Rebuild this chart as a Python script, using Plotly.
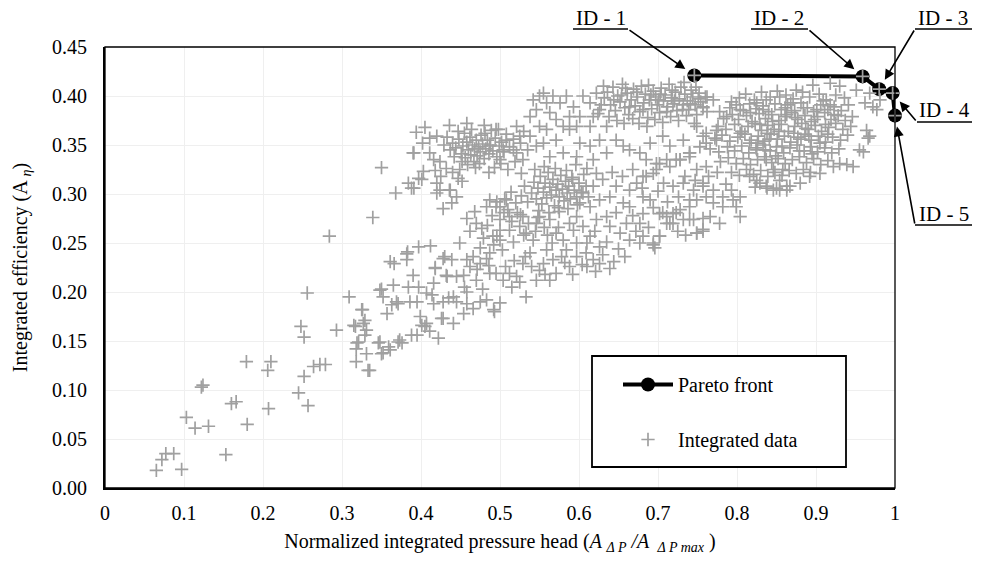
import plotly.graph_objects as go

# ---------------- data ----------------
pareto_x = [0.746, 0.959, 0.980, 0.997, 1.000]
pareto_y = [0.421, 0.420, 0.407, 0.403, 0.380]
pareto_ids = ["ID - 1", "ID - 2", "ID - 3", "ID - 4", "ID - 5"]

x_ticks = [0, 0.1, 0.2, 0.3, 0.4, 0.5, 0.6, 0.7, 0.8, 0.9, 1]
y_ticks = [0.00, 0.05, 0.10, 0.15, 0.20, 0.25, 0.30, 0.35, 0.40, 0.45]

tail = [
    (0.065, 0.018), (0.072, 0.029), (0.077, 0.035), (0.087, 0.035), (0.097, 0.019), (0.103, 0.072),
    (0.114, 0.061), (0.131, 0.063), (0.122, 0.103), (0.124, 0.105), (0.153, 0.034), (0.160, 0.086),
    (0.166, 0.088), (0.179, 0.129), (0.180, 0.065), (0.206, 0.120), (0.210, 0.129), (0.207, 0.081),
    (0.245, 0.097), (0.248, 0.165), (0.252, 0.154), (0.252, 0.114), (0.257, 0.084), (0.256, 0.199),
    (0.264, 0.124), (0.272, 0.126), (0.279, 0.126), (0.284, 0.257), (0.293, 0.161), (0.309, 0.195),
    (0.315, 0.166), (0.326, 0.182), (0.329, 0.171), (0.331, 0.161), (0.319, 0.148), (0.318, 0.142),
    (0.318, 0.129), (0.331, 0.137), (0.335, 0.120), (0.339, 0.276), (0.350, 0.327), (0.350, 0.203),
    (0.352, 0.195), (0.365, 0.207), (0.357, 0.178), (0.363, 0.187), (0.371, 0.188), (0.346, 0.148),
    (0.352, 0.138), (0.361, 0.141), (0.371, 0.149), (0.376, 0.148), (0.388, 0.156), (0.361, 0.231),
    (0.366, 0.229), (0.382, 0.233), (0.383, 0.241), (0.397, 0.246), (0.412, 0.247), (0.368, 0.301),
    (0.384, 0.311), (0.388, 0.306), (0.401, 0.315), (0.390, 0.342), (0.325, 0.182), (0.327, 0.168),
    (0.317, 0.165), (0.329, 0.156), (0.321, 0.149), (0.333, 0.120), (0.348, 0.149), (0.359, 0.144),
    (0.350, 0.137), (0.373, 0.151), (0.348, 0.202), (0.382, 0.239), (0.369, 0.190), (0.386, 0.190),
]

mid_left = [
    (0.390, 0.217), (0.384, 0.205), (0.397, 0.205), (0.407, 0.199), (0.416, 0.209), (0.418, 0.225),
    (0.428, 0.234), (0.433, 0.216), (0.416, 0.188), (0.428, 0.190), (0.399, 0.175), (0.401, 0.166),
    (0.407, 0.168), (0.411, 0.160), (0.422, 0.153), (0.426, 0.173), (0.395, 0.156), (0.424, 0.304),
    (0.428, 0.285), (0.420, 0.301), (0.414, 0.197), (0.395, 0.190), (0.430, 0.236), (0.439, 0.233),
    (0.458, 0.233), (0.466, 0.236), (0.475, 0.229), (0.483, 0.234), (0.487, 0.219), (0.471, 0.223),
    (0.454, 0.217), (0.445, 0.216), (0.418, 0.224), (0.432, 0.217), (0.449, 0.250), (0.435, 0.194),
    (0.441, 0.195), (0.458, 0.200), (0.475, 0.190), (0.483, 0.192), (0.492, 0.182), (0.466, 0.183),
    (0.458, 0.188), (0.454, 0.178), (0.445, 0.190), (0.428, 0.173), (0.405, 0.165), (0.441, 0.168),
    (0.458, 0.275), (0.468, 0.282), (0.483, 0.287), (0.496, 0.292), (0.477, 0.265), (0.479, 0.255),
    (0.475, 0.245), (0.496, 0.257), (0.500, 0.263), (0.436, 0.304), (0.445, 0.297), (0.439, 0.291),
    (0.449, 0.325), (0.452, 0.313), (0.420, 0.311), (0.437, 0.304), (0.403, 0.323), (0.397, 0.316),
    (0.391, 0.306), (0.462, 0.262), (0.470, 0.270), (0.484, 0.268), (0.490, 0.278), (0.505, 0.281),
    (0.515, 0.272), (0.526, 0.279), (0.536, 0.270), (0.548, 0.276), (0.492, 0.248), (0.503, 0.243),
    (0.517, 0.251), (0.530, 0.258), (0.545, 0.262), (0.556, 0.266), (0.487, 0.240),
]

band_d = [
    (0.491, 0.257), (0.500, 0.253), (0.512, 0.263), (0.525, 0.267), (0.533, 0.260), (0.546, 0.270),
    (0.542, 0.253), (0.550, 0.277), (0.563, 0.274), (0.571, 0.260), (0.580, 0.253), (0.593, 0.263),
    (0.597, 0.277), (0.605, 0.267), (0.614, 0.257), (0.626, 0.246), (0.635, 0.251), (0.559, 0.243),
    (0.538, 0.240), (0.529, 0.229), (0.512, 0.219), (0.495, 0.219), (0.521, 0.216), (0.546, 0.212),
    (0.563, 0.212), (0.571, 0.219), (0.588, 0.226), (0.597, 0.236), (0.609, 0.240), (0.618, 0.233),
    (0.626, 0.229), (0.639, 0.224), (0.584, 0.243), (0.567, 0.233), (0.550, 0.222), (0.533, 0.195),
    (0.500, 0.189), (0.493, 0.180), (0.487, 0.294), (0.495, 0.287), (0.508, 0.294), (0.529, 0.277),
    (0.512, 0.277), (0.500, 0.274), (0.555, 0.229), (0.578, 0.236), (0.604, 0.228), (0.621, 0.221),
    (0.532, 0.236), (0.507, 0.226), (0.515, 0.205), (0.525, 0.210), (0.597, 0.250), (0.620, 0.262),
    (0.588, 0.270), (0.575, 0.282), (0.455, 0.205), (0.462, 0.226), (0.470, 0.212), (0.478, 0.203),
    (0.486, 0.227), (0.504, 0.212), (0.518, 0.232), (0.540, 0.226), (0.557, 0.218), (0.566, 0.250),
    (0.582, 0.230), (0.592, 0.218), (0.610, 0.226), (0.630, 0.238), (0.644, 0.231), (0.650, 0.244),
    (0.658, 0.236), (0.610, 0.250), (0.560, 0.258), (0.574, 0.266),
]

band_a = [
    (0.440, 0.352), (0.444, 0.347), (0.448, 0.356), (0.451, 0.341), (0.453, 0.349), (0.456, 0.337),
    (0.458, 0.353), (0.460, 0.345), (0.462, 0.358), (0.463, 0.340), (0.465, 0.350), (0.467, 0.333),
    (0.468, 0.346), (0.470, 0.355), (0.471, 0.339), (0.473, 0.348), (0.475, 0.343), (0.476, 0.360),
    (0.478, 0.351), (0.480, 0.336), (0.482, 0.346), (0.484, 0.355), (0.486, 0.341), (0.488, 0.350),
    (0.491, 0.344), (0.494, 0.357), (0.496, 0.338), (0.499, 0.349), (0.455, 0.362), (0.447, 0.364),
    (0.459, 0.330), (0.469, 0.327), (0.442, 0.338), (0.437, 0.345), (0.433, 0.358), (0.429, 0.350),
    (0.452, 0.333), (0.474, 0.331), (0.481, 0.362), (0.489, 0.365), (0.502, 0.353), (0.505, 0.343),
    (0.508, 0.361), (0.512, 0.348), (0.517, 0.356), (0.521, 0.342), (0.526, 0.352), (0.530, 0.364),
    (0.535, 0.345), (0.464, 0.366), (0.394, 0.363), (0.402, 0.352), (0.411, 0.357), (0.420, 0.359),
    (0.391, 0.342), (0.411, 0.342), (0.416, 0.335), (0.424, 0.333), (0.418, 0.324), (0.425, 0.318),
    (0.432, 0.326), (0.440, 0.322), (0.447, 0.316), (0.486, 0.322), (0.493, 0.327), (0.501, 0.331),
    (0.510, 0.325), (0.519, 0.333), (0.527, 0.321), (0.405, 0.368), (0.436, 0.370), (0.458, 0.372),
    (0.480, 0.370), (0.498, 0.366), (0.521, 0.369),
]

below_b = [
    (0.495, 0.366), (0.508, 0.355), (0.525, 0.359), (0.538, 0.359), (0.546, 0.349), (0.555, 0.352),
    (0.571, 0.355), (0.588, 0.366), (0.601, 0.352), (0.614, 0.349), (0.626, 0.355), (0.647, 0.355),
    (0.656, 0.349), (0.664, 0.345), (0.487, 0.349), (0.504, 0.345), (0.517, 0.345), (0.529, 0.335),
    (0.500, 0.335), (0.563, 0.338), (0.580, 0.342), (0.597, 0.338), (0.618, 0.335), (0.635, 0.342),
    (0.677, 0.342), (0.690, 0.352), (0.706, 0.359), (0.715, 0.349), (0.732, 0.355), (0.740, 0.342),
    (0.749, 0.369), (0.757, 0.359), (0.723, 0.335), (0.698, 0.331),
]

band_b_left = [
    (0.542, 0.396), (0.550, 0.400), (0.555, 0.403), (0.559, 0.393), (0.546, 0.386), (0.563, 0.383),
    (0.571, 0.376), (0.576, 0.393), (0.584, 0.400), (0.593, 0.389), (0.588, 0.379), (0.601, 0.379),
    (0.605, 0.400), (0.614, 0.393), (0.618, 0.379), (0.622, 0.403), (0.631, 0.410), (0.626, 0.386),
    (0.550, 0.369), (0.559, 0.366), (0.597, 0.369), (0.614, 0.369), (0.567, 0.400), (0.538, 0.379),
    (0.580, 0.369), (0.635, 0.369),
]

band_b = [
    (0.632, 0.398), (0.636, 0.404), (0.640, 0.391), (0.643, 0.409), (0.646, 0.385), (0.649, 0.400),
    (0.652, 0.394), (0.655, 0.412), (0.658, 0.388), (0.661, 0.403), (0.663, 0.381), (0.666, 0.396),
    (0.669, 0.407), (0.671, 0.390), (0.674, 0.399), (0.677, 0.384), (0.679, 0.410), (0.682, 0.393),
    (0.684, 0.402), (0.687, 0.378), (0.689, 0.396), (0.692, 0.387), (0.694, 0.405), (0.697, 0.399),
    (0.699, 0.391), (0.702, 0.383), (0.704, 0.408), (0.707, 0.395), (0.709, 0.401), (0.712, 0.389),
    (0.714, 0.412), (0.717, 0.398), (0.719, 0.392), (0.722, 0.404), (0.724, 0.385), (0.727, 0.397),
    (0.729, 0.409), (0.732, 0.391), (0.734, 0.402), (0.737, 0.395), (0.739, 0.386), (0.742, 0.406),
    (0.744, 0.399), (0.747, 0.391), (0.749, 0.381), (0.752, 0.403), (0.754, 0.394), (0.757, 0.388),
    (0.760, 0.399), (0.762, 0.384), (0.638, 0.379), (0.648, 0.375), (0.657, 0.372), (0.668, 0.377),
    (0.676, 0.372), (0.686, 0.369), (0.696, 0.376), (0.706, 0.373), (0.716, 0.379), (0.726, 0.375),
    (0.736, 0.380), (0.746, 0.372), (0.644, 0.396), (0.654, 0.401), (0.664, 0.389), (0.673, 0.404),
    (0.681, 0.386), (0.691, 0.401), (0.701, 0.396), (0.711, 0.384), (0.721, 0.395), (0.731, 0.386),
    (0.741, 0.392), (0.751, 0.397), (0.659, 0.408), (0.688, 0.411), (0.703, 0.402), (0.718, 0.406),
    (0.733, 0.414), (0.748, 0.409), (0.628, 0.391), (0.624, 0.382),
]

middle = [
    (0.540, 0.301), (0.543, 0.312), (0.546, 0.295), (0.548, 0.306), (0.551, 0.318), (0.553, 0.290),
    (0.555, 0.302), (0.557, 0.311), (0.559, 0.296), (0.561, 0.322), (0.563, 0.307), (0.565, 0.299),
    (0.567, 0.315), (0.569, 0.288), (0.571, 0.304), (0.573, 0.310), (0.575, 0.297), (0.577, 0.319),
    (0.579, 0.305), (0.581, 0.293), (0.583, 0.313), (0.585, 0.301), (0.587, 0.308), (0.589, 0.295),
    (0.591, 0.317), (0.594, 0.304), (0.597, 0.297), (0.600, 0.311), (0.603, 0.302), (0.606, 0.320),
    (0.609, 0.308), (0.612, 0.297), (0.549, 0.283), (0.562, 0.281), (0.574, 0.286), (0.586, 0.285),
    (0.598, 0.289), (0.544, 0.325), (0.556, 0.328), (0.570, 0.326), (0.584, 0.324), (0.596, 0.330),
    (0.610, 0.326), (0.535, 0.292), (0.531, 0.308), (0.527, 0.298), (0.520, 0.291), (0.514, 0.302),
    (0.506, 0.295), (0.500, 0.287), (0.510, 0.284), (0.522, 0.281), (0.592, 0.315), (0.605, 0.301),
    (0.618, 0.308), (0.630, 0.315), (0.614, 0.287), (0.601, 0.291), (0.622, 0.321),
]

band_c = [
    (0.626, 0.294), (0.639, 0.297), (0.647, 0.308), (0.664, 0.304), (0.673, 0.311), (0.685, 0.318),
    (0.698, 0.325), (0.711, 0.335), (0.728, 0.335), (0.740, 0.338), (0.749, 0.325), (0.761, 0.328),
    (0.757, 0.308), (0.740, 0.294), (0.723, 0.281), (0.711, 0.270), (0.706, 0.281), (0.690, 0.294),
    (0.681, 0.297), (0.656, 0.291), (0.664, 0.287), (0.647, 0.281), (0.635, 0.277), (0.622, 0.274),
    (0.639, 0.267), (0.652, 0.260), (0.664, 0.253), (0.677, 0.250), (0.694, 0.248), (0.702, 0.257),
    (0.719, 0.270), (0.740, 0.274), (0.749, 0.260), (0.757, 0.264), (0.685, 0.335), (0.702, 0.331),
    (0.715, 0.328), (0.728, 0.335), (0.740, 0.342), (0.753, 0.348), (0.761, 0.352), (0.774, 0.355),
    (0.681, 0.318), (0.694, 0.321), (0.707, 0.311), (0.719, 0.308), (0.732, 0.311), (0.745, 0.304),
    (0.757, 0.311), (0.770, 0.304), (0.782, 0.297), (0.795, 0.294), (0.804, 0.297), (0.799, 0.287),
    (0.804, 0.277), (0.782, 0.287), (0.770, 0.291), (0.761, 0.297), (0.749, 0.294), (0.740, 0.287),
    (0.728, 0.284), (0.719, 0.280), (0.711, 0.277), (0.702, 0.280), (0.715, 0.270), (0.732, 0.274),
    (0.745, 0.274), (0.757, 0.275), (0.766, 0.277), (0.778, 0.270), (0.749, 0.260), (0.757, 0.262),
    (0.681, 0.280), (0.677, 0.270), (0.681, 0.257), (0.694, 0.250), (0.696, 0.245), (0.702, 0.257),
    (0.660, 0.270), (0.668, 0.278), (0.672, 0.262), (0.688, 0.266), (0.694, 0.286), (0.700, 0.303),
    (0.712, 0.292), (0.726, 0.297), (0.734, 0.318), (0.747, 0.314), (0.764, 0.318), (0.775, 0.322),
    (0.786, 0.310), (0.793, 0.304), (0.655, 0.318), (0.668, 0.325), (0.642, 0.322), (0.680, 0.306),
    (0.725, 0.262), (0.735, 0.258),
]

right_edge = [
    (0.964, 0.365), (0.968, 0.359), (0.955, 0.345), (0.947, 0.328), (0.939, 0.330), (0.972, 0.389),
    (0.977, 0.386), (0.981, 0.396), (0.968, 0.403), (0.951, 0.406), (0.930, 0.410), (0.918, 0.413),
    (0.896, 0.411), (0.875, 0.406), (0.854, 0.399), (0.837, 0.396), (0.825, 0.393), (0.804, 0.386),
    (0.787, 0.379), (0.774, 0.365), (0.761, 0.362), (0.804, 0.362), (0.816, 0.352), (0.825, 0.345),
    (0.837, 0.335), (0.846, 0.325), (0.854, 0.314), (0.867, 0.308), (0.880, 0.311), (0.892, 0.318),
    (0.905, 0.321), (0.922, 0.328), (0.930, 0.331), (0.858, 0.325), (0.829, 0.311), (0.837, 0.308),
    (0.846, 0.304), (0.854, 0.304), (0.863, 0.304), (0.825, 0.314), (0.816, 0.318), (0.962, 0.393),
    (0.966, 0.357), (0.960, 0.343), (0.823, 0.307), (0.838, 0.306), (0.850, 0.306), (0.863, 0.308),
    (0.762, 0.399), (0.770, 0.396), (0.793, 0.394), (0.778, 0.384), (0.757, 0.389),
]

right_core = [
    (0.803, 0.398), (0.811, 0.402), (0.822, 0.396), (0.831, 0.404), (0.842, 0.399), (0.851, 0.405),
    (0.862, 0.401), (0.871, 0.397), (0.883, 0.404), (0.892, 0.399), (0.904, 0.402), (0.913, 0.396),
    (0.925, 0.401), (0.936, 0.398), (0.791, 0.388), (0.799, 0.391), (0.808, 0.385), (0.816, 0.392),
    (0.824, 0.387), (0.833, 0.390), (0.840, 0.384), (0.848, 0.392), (0.856, 0.386), (0.864, 0.391),
    (0.873, 0.385), (0.881, 0.393), (0.889, 0.388), (0.897, 0.384), (0.906, 0.391), (0.915, 0.386),
    (0.923, 0.389), (0.932, 0.385), (0.941, 0.391), (0.783, 0.377), (0.794, 0.381), (0.802, 0.376),
    (0.812, 0.380), (0.819, 0.374), (0.828, 0.382), (0.836, 0.377), (0.844, 0.381), (0.853, 0.375),
    (0.861, 0.379), (0.869, 0.383), (0.877, 0.376), (0.886, 0.380), (0.894, 0.374), (0.902, 0.379),
    (0.911, 0.383), (0.919, 0.376), (0.928, 0.380), (0.937, 0.375), (0.946, 0.379), (0.776, 0.369),
    (0.786, 0.366), (0.797, 0.371), (0.806, 0.364), (0.814, 0.369), (0.823, 0.372), (0.831, 0.365),
    (0.839, 0.370), (0.847, 0.366), (0.856, 0.371), (0.865, 0.364), (0.873, 0.369), (0.882, 0.372),
    (0.890, 0.366), (0.899, 0.370), (0.907, 0.364), (0.916, 0.368), (0.925, 0.372), (0.934, 0.366),
    (0.944, 0.369), (0.772, 0.357), (0.781, 0.360), (0.791, 0.354), (0.801, 0.358), (0.810, 0.361),
    (0.818, 0.355), (0.827, 0.359), (0.835, 0.354), (0.843, 0.361), (0.851, 0.356), (0.860, 0.359),
    (0.868, 0.353), (0.877, 0.358), (0.886, 0.361), (0.894, 0.355), (0.903, 0.359), (0.912, 0.353),
    (0.921, 0.358), (0.931, 0.355), (0.940, 0.360), (0.766, 0.346), (0.777, 0.343), (0.788, 0.348),
    (0.797, 0.344), (0.806, 0.349), (0.815, 0.342), (0.824, 0.347), (0.833, 0.350), (0.842, 0.344),
    (0.850, 0.348), (0.859, 0.342), (0.867, 0.347), (0.876, 0.350), (0.885, 0.344), (0.893, 0.348),
    (0.902, 0.343), (0.911, 0.347), (0.920, 0.342), (0.929, 0.346), (0.779, 0.333), (0.789, 0.337),
    (0.799, 0.331), (0.808, 0.336), (0.817, 0.330), (0.826, 0.335), (0.835, 0.338), (0.844, 0.332),
    (0.852, 0.336), (0.861, 0.331), (0.870, 0.335), (0.879, 0.338), (0.888, 0.332), (0.897, 0.336),
    (0.906, 0.330), (0.915, 0.334), (0.793, 0.322), (0.803, 0.319), (0.812, 0.325), (0.821, 0.320),
    (0.830, 0.324), (0.839, 0.318), (0.848, 0.322), (0.857, 0.319), (0.866, 0.324), (0.875, 0.321),
    (0.884, 0.325), (0.893, 0.322), (0.826, 0.352), (0.838, 0.362), (0.845, 0.374), (0.857, 0.349),
    (0.863, 0.381), (0.872, 0.362), (0.879, 0.344), (0.884, 0.388), (0.891, 0.359), (0.898, 0.376),
    (0.905, 0.352), (0.912, 0.371), (0.918, 0.391), (0.833, 0.386), (0.849, 0.339), (0.868, 0.393),
    (0.887, 0.367), (0.901, 0.386), (0.853, 0.364), (0.874, 0.378), (0.895, 0.341), (0.915, 0.361),
    (0.829, 0.371), (0.841, 0.356), (0.861, 0.388), (0.881, 0.356), (0.909, 0.395), (0.923, 0.381),
    (0.817, 0.383), (0.836, 0.345),
]

clusters = [tail, mid_left, band_d, band_a, below_b, band_b_left, band_b, middle, band_c, right_edge, right_core]
data_x = [p[0] for c in clusters for p in c] + pareto_x
data_y = [p[1] for c in clusters for p in c] + pareto_y

# ---------------- layout helpers ----------------
# The page body has an 8 px margin, so the figure is drawn 8 px smaller and offset.
W, H = 973, 565
ML, MR, MT, MB = 97, 86, 39, 85
PW, PH = W - ML - MR, H - MT - MB
OFF = 8
FONT = "Liberation Serif, Times New Roman, serif"
X_RANGE = [0, 1]
Y_RANGE = [0, 0.45]


def paper(px, py):
    """screen pixel -> paper fraction of the plotting area"""
    return (px - OFF - ML) / PW, (OFF + H - MB - py) / PH


def data_from_px(px, py):
    xp, yp = paper(px, py)
    return (X_RANGE[0] + xp * (X_RANGE[1] - X_RANGE[0]),
            Y_RANGE[0] + yp * (Y_RANGE[1] - Y_RANGE[0]))


fig = go.Figure()

fig.add_trace(go.Scatter(
    x=pareto_x, y=pareto_y, mode="lines+markers", name="Pareto front",
    line=dict(color="black", width=4),
    marker=dict(color="black", size=14, symbol="circle"),
    cliponaxis=False, legendgroup="a",
))

fig.add_trace(go.Scatter(
    x=data_x, y=data_y, mode="markers", name="Integrated data",
    marker=dict(symbol="cross-thin", size=9.5, color="#a0a0a0",
                line=dict(color="#a0a0a0", width=1.7)),
    cliponaxis=False, legendgroup="b",
))

# label layout (screen px): text centre x, underline x0, x1, underline y, arrow tail x, y
label_layout = [
    (601, 573, 628, 29, 628, 29),
    (779, 751, 808, 29, 808, 29),
    (943, 915, 972, 29, 915, 29),
    (944, 917, 972, 122, 917, 122),
    (944, 915, 972, 225, 915, 225),
]

annotations = []
shapes = []
for (tid, px, py), lay in zip(zip(pareto_ids, pareto_x, pareto_y), label_layout):
    tcx, ux0, ux1, uy, tx, ty = lay
    xp, yp = paper(tcx, uy + 1.5)
    annotations.append(dict(
        x=xp, y=yp, xref="paper", yref="paper", text=tid, showarrow=False,
        xanchor="center", yanchor="bottom", borderpad=0,
        font=dict(family=FONT, size=21, color="black"),
    ))
    a0 = paper(ux0, uy)
    a1 = paper(ux1, uy)
    shapes.append(dict(type="line", xref="paper", yref="paper", x0=a0[0], y0=a0[1], x1=a1[0], y1=a1[1],
                       line=dict(color="black", width=1.5)))
    axd, ayd = data_from_px(tx, ty)
    annotations.append(dict(
        x=px, y=py, xref="x", yref="y", ax=axd, ay=ayd, axref="x", ayref="y",
        text="", showarrow=True, arrowhead=2, arrowsize=1.25, arrowwidth=1.6,
        arrowcolor="black", standoff=11,
    ))

# plot frame
shapes.append(dict(type="rect", xref="paper", yref="paper", x0=0, y0=0, x1=1, y1=1,
                   line=dict(color="black", width=1.3), layer="above"))

# legend box
b0 = paper(592, 356)
b1 = paper(846, 467)
shapes.append(dict(type="rect", xref="paper", yref="paper", x0=b0[0], y0=b1[1], x1=b1[0], y1=b0[1],
                   line=dict(color="black", width=1.8), fillcolor="white", layer="above"))

lx, ly = paper(618, 365)

fig.update_layout(
    width=W, height=H,
    margin=dict(l=ML, r=MR, t=MT, b=MB),
    paper_bgcolor="white", plot_bgcolor="white",
    font=dict(family=FONT, size=20, color="black"),
    showlegend=True,
    legend=dict(
        x=lx, y=ly, xanchor="left", yanchor="top",
        bgcolor="rgba(0,0,0,0)", borderwidth=0,
        font=dict(family=FONT, size=20, color="black"),
        tracegroupgap=26, itemwidth=50,
    ),
    annotations=annotations,
    shapes=shapes,
    xaxis=dict(
        range=X_RANGE, tickvals=x_ticks, ticktext=[f"{v:g}" for v in x_ticks],
        showgrid=True, gridcolor="#efefef", gridwidth=1, zeroline=False,
        showline=True, linecolor="black", linewidth=2, ticks="",
        tickfont=dict(family=FONT, size=20), ticklabelstandoff=6,
        title=dict(text="Normalized integrated pressure head (<i>A <sub>Δ P</sub> /A <sub> Δ P max</sub></i> )",
                   font=dict(family=FONT, size=20), standoff=11),
    ),
    yaxis=dict(
        range=Y_RANGE, tickvals=y_ticks, ticktext=[f"{v:.2f}" for v in y_ticks],
        showgrid=True, gridcolor="#efefef", gridwidth=1, zeroline=False,
        showline=True, linecolor="black", linewidth=2, ticks="",
        tickfont=dict(family=FONT, size=20), ticklabelstandoff=12,
        title=dict(text="Integrated efficiency (A <sub><i>η</i></sub>)",
                   font=dict(family=FONT, size=20), standoff=19),
    ),
)

fig.write_html("out.html")
